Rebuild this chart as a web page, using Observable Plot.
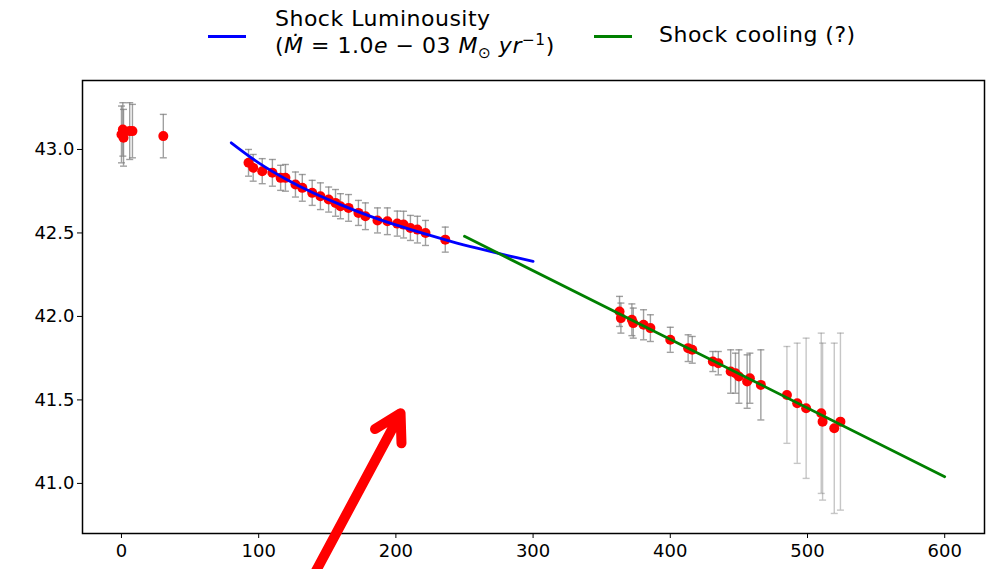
<!DOCTYPE html>
<html>
<head>
<meta charset="utf-8">
<script src="https://cdn.jsdelivr.net/npm/d3@7"></script>
<script src="https://cdn.jsdelivr.net/npm/@observablehq/plot@0.6"></script>
<style>
  body { margin: 0; background: #fff; font-family: "DejaVu Sans", sans-serif; }
  #legend { position: relative; width: 986px; height: 62px; font-size: 22px; color: #000; }
  .swatch { position: absolute; height: 3px; width: 38px; }
  .ltext { position: absolute; line-height: 27px; white-space: nowrap; letter-spacing: 0.5px; }
  sub, sup { font-size: 0.7em; line-height: 0; }
  i { font-style: italic; }
</style>
</head>
<body>
<div id="legend">
  <div class="swatch" style="left:208px; top:35px; background:#0000ff;"></div>
  <div class="ltext" style="left:275px; top:5px;">Shock Luminousity<br>(<i>Ṁ</i> = 1.0<i>e</i> − 03 <i>M</i><sub>⊙</sub> <i>yr</i><sup>−1</sup>)</div>
  <div class="swatch" style="left:594px; top:35px; background:#008000;"></div>
  <div class="ltext" style="left:659px; top:21px;">Shock cooling (?)</div>
</div>
<div id="chart"></div>
<script>
// ---- observed luminosity (log10 L), days since explosion, 1-sigma errors ----
const earlyDays = [0, 1, 1.5, 6, 8, 30.5];
const earlyLum  = [43.09, 43.12, 43.07, 43.11, 43.11, 43.08];
const earlyErr  = [0.17, 0.16, 0.17, 0.17, 0.16, 0.13];

const midDays = [92.6, 96, 102.6, 110, 116, 119.5, 126.8, 131.8, 139, 145, 151, 156, 159.6, 165.5, 172.7, 177.8, 186.6, 193.8, 201, 205.6, 210.6, 215.7, 221.6, 236];
const midLum  = [42.92, 42.89, 42.87, 42.86, 42.83, 42.83, 42.79, 42.77, 42.74, 42.72, 42.70, 42.68, 42.66, 42.65, 42.62, 42.60, 42.575, 42.57, 42.556, 42.55, 42.53, 42.52, 42.50, 42.46];
const midErr  = [0.08, 0.08, 0.075, 0.08, 0.075, 0.08, 0.075, 0.08, 0.075, 0.08, 0.075, 0.08, 0.075, 0.08, 0.075, 0.08, 0.075, 0.08, 0.075, 0.08, 0.075, 0.08, 0.075, 0.075];

const lateDays = [363, 364, 372, 373, 380.5, 385.5, 400, 413, 416, 431, 435, 444, 447.5, 450, 456, 458, 466, 485, 492.5, 499, 510, 511, 519.5, 524];
const lateLum  = [42.03, 41.99, 41.98, 41.96, 41.95, 41.93, 41.86, 41.81, 41.80, 41.73, 41.72, 41.67, 41.66, 41.64, 41.61, 41.63, 41.59, 41.53, 41.48, 41.45, 41.42, 41.37, 41.33, 41.37];
const lateErr  = [0.09, 0.09, 0.095, 0.09, 0.09, 0.08, 0.075, 0.08, 0.08, 0.06, 0.07, 0.13, 0.12, 0.16, 0.16, 0.15, 0.21, 0.29, 0.36, 0.42, 0.48, 0.47, 0.51, 0.53];

// ---- model curves ----
const shockLumDays = [80, 100, 120, 140, 160, 180, 200, 220, 240, 260, 280, 300];
const shockLumVal  = [43.04, 42.92, 42.822, 42.739, 42.668, 42.604, 42.548, 42.497, 42.450, 42.407, 42.367, 42.330];
const coolingDays  = [250, 600];
const coolingVal   = [42.48, 41.04];

// ---- annotation arrow (data units: tail -> tip) ----
const arrowTail = [141.4, 40.47];
const arrowTip  = [203.4, 41.42];

const xTicks = [0, 100, 200, 300, 400, 500, 600];
const yTicks = [41.0, 41.5, 42.0, 42.5, 43.0];

const toRows = (days, lum, err) => days.map((t, i) => ({t, L: lum[i], e: err[i]}));
const obs = [...toRows(earlyDays, earlyLum, earlyErr), ...toRows(midDays, midLum, midErr), ...toRows(lateDays, lateLum, lateErr)];
const blueFit = shockLumDays.map((t, i) => ({t, L: shockLumVal[i]}));
const greenFit = coolingDays.map((t, i) => ({t, L: coolingVal[i]}));
const arrowData = [{x1: arrowTail[0], y1: arrowTail[1], x2: arrowTip[0], y2: arrowTip[1]}];

const capSymbol = {
  draw(ctx, size) {
    const w = Math.sqrt(size / Math.PI);
    ctx.moveTo(-w, 0);
    ctx.lineTo(w, 0);
  }
};
const barOpacity = d => d.e > 0.25 ? 0.45 : 0.75;

const chart = Plot.plot({
  width: 986,
  height: 507,
  marginLeft: 82,
  marginRight: 2,
  marginTop: 18,
  marginBottom: 36,
  style: {fontFamily: "DejaVu Sans, sans-serif", fontSize: "18px", color: "black", background: "white", overflow: "visible"},
  x: {domain: [-28.4, 629], ticks: xTicks, tickSize: 5, tickPadding: 6, label: null},
  y: {domain: [40.70, 43.413], ticks: yTicks, tickFormat: d => d.toFixed(1), tickSize: 5, tickPadding: 3, label: null},
  marks: [
    Plot.ruleX(obs, {x: "t", y1: d => d.L - d.e, y2: d => d.L + d.e, stroke: "#808080", strokeOpacity: barOpacity, strokeWidth: 1.4}),
    Plot.dot(obs, {x: "t", y: d => d.L + d.e, symbol: capSymbol, r: 3.5, fill: "none", stroke: "#808080", strokeOpacity: barOpacity, strokeWidth: 1.4}),
    Plot.dot(obs, {x: "t", y: d => d.L - d.e, symbol: capSymbol, r: 3.5, fill: "none", stroke: "#808080", strokeOpacity: barOpacity, strokeWidth: 1.4}),
    Plot.dot(obs, {x: "t", y: "L", r: 5, fill: "#ff0000", stroke: "none"}),
    Plot.line(blueFit, {x: "t", y: "L", stroke: "#0000ff", strokeWidth: 2.8, curve: "catmull-rom"}),
    Plot.line(greenFit, {x: "t", y: "L", stroke: "#008000", strokeWidth: 2.8}),
    Plot.frame({stroke: "black", strokeWidth: 1.5}),
    Plot.arrow(arrowData, {x1: "x1", y1: "y1", x2: "x2", y2: "y2", stroke: "#ff0000", strokeWidth: 10, headLength: 4.5, headAngle: 60})
  ]
});
document.getElementById("chart").appendChild(chart);
</script>
</body>
</html>
